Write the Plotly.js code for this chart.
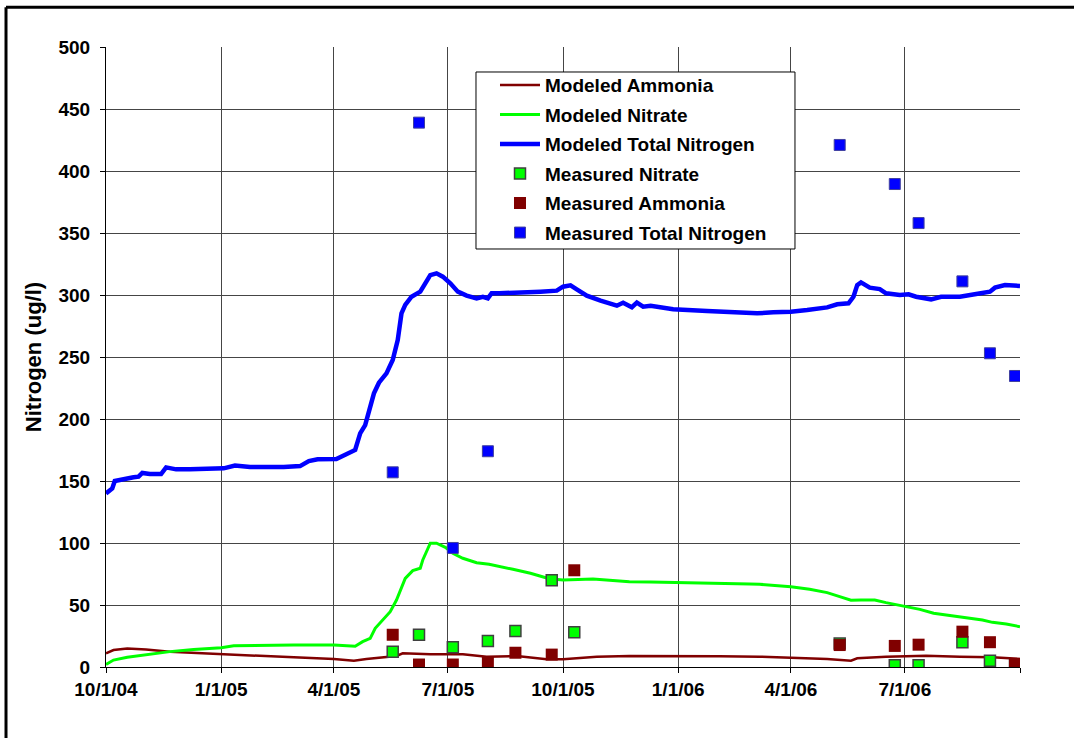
<!DOCTYPE html>
<html>
<head>
<meta charset="utf-8">
<script src="https://cdn.plot.ly/plotly-3.0.1.min.js"></script>
<style>
html,body{margin:0;padding:0;background:#fff;}
#chart{width:1074px;height:738px;}
</style>
</head>
<body>
<div id="chart"></div>
<script>
// ---- Modeled Total Nitrogen ----
const tnDates = ['2004-10-01','2004-10-06','2004-10-08','2004-10-12','2004-10-23','2004-10-27','2004-10-30','2004-11-05','2004-11-14','2004-11-18','2004-11-26','2004-12-07','2005-01-03','2005-01-12','2005-01-24','2005-02-20','2005-03-05','2005-03-12','2005-03-19','2005-04-03','2005-04-09','2005-04-18','2005-04-22','2005-04-26','2005-05-03','2005-05-07','2005-05-13','2005-05-18','2005-05-22','2005-05-25','2005-05-28','2005-06-02','2005-06-09','2005-06-13','2005-06-17','2005-06-22','2005-06-27','2005-07-03','2005-07-09','2005-07-16','2005-07-24','2005-07-29','2005-08-02','2005-08-05','2005-08-11','2005-09-13','2005-09-26','2005-10-01','2005-10-07','2005-10-12','2005-10-20','2005-10-31','2005-11-13','2005-11-18','2005-11-25','2005-11-29','2005-12-04','2005-12-10','2005-12-28','2006-01-24','2006-02-19','2006-03-05','2006-03-18','2006-04-01','2006-04-14','2006-04-30','2006-05-08','2006-05-17','2006-05-21','2006-05-24','2006-05-27','2006-06-03','2006-06-11','2006-06-16','2006-06-27','2006-07-04','2006-07-10','2006-07-22','2006-07-30','2006-08-14','2006-08-27','2006-09-07','2006-09-11','2006-09-19','2006-10-01'];
const tnValues = [140,144,150,151,153,153.5,156.5,155.6,155.6,161,159.4,159.4,160.2,162.4,161.3,161.3,162,166,167.5,167.7,171,175,188.4,195,220.7,229.3,236.8,247.6,263.7,285.2,292,298.6,302.7,309.4,316,317.5,314.8,309.4,302.7,299.5,297.3,298.6,297.3,301.4,301.4,302.7,303.5,306.7,307.8,304.6,299.5,295.4,291.4,293.8,290.1,293.8,290.6,291.4,288.5,287.1,285.7,285.2,286,286.5,287.9,290,292.5,293.3,298.6,308,310.2,305.9,304.8,301.4,300,300.5,298.6,296.5,298.6,298.6,300.8,302.7,305.9,308,307.3];

// ---- Modeled Nitrate ----
const no3Dates = ['2004-10-01','2004-10-07','2004-10-18','2004-11-02','2004-11-21','2004-12-10','2005-01-01','2005-01-11','2005-02-01','2005-02-28','2005-04-01','2005-04-18','2005-04-24','2005-04-30','2005-05-04','2005-05-16','2005-05-21','2005-05-28','2005-06-03','2005-06-09','2005-06-11','2005-06-17','2005-06-22','2005-06-29','2005-07-05','2005-07-13','2005-07-24','2005-08-03','2005-08-22','2005-09-05','2005-09-20','2005-10-01','2005-10-25','2005-11-23','2005-12-10','2006-01-18','2006-02-27','2006-03-07','2006-04-01','2006-04-16','2006-04-30','2006-05-10','2006-05-19','2006-05-27','2006-06-07','2006-06-16','2006-07-01','2006-07-13','2006-07-24','2006-08-09','2006-08-19','2006-09-01','2006-09-09','2006-09-20','2006-10-01'];
const no3Values = [2,5.6,7.8,9.7,12.4,14.2,15.6,17.2,17.5,17.7,17.7,16.8,20.4,23.1,31.2,44.6,54,71.5,77.7,79.6,86.3,99.8,99.8,96.5,91.7,87.7,84.1,82.8,78.8,75.6,71.2,70.2,71,68.8,68.5,68,67,66.7,64.8,62.7,60,56.7,53.8,54,54,51.9,48.6,46.5,43.3,41.1,39.2,37.9,36,34.7,32.5];

// ---- Modeled Ammonia ----
const nh3Dates = ['2004-10-01','2004-10-07','2004-10-18','2004-11-02','2004-11-21','2005-01-01','2005-02-01','2005-02-28','2005-04-01','2005-04-17','2005-04-27','2005-05-08','2005-05-21','2005-05-26','2005-06-17','2005-07-13','2005-08-01','2005-08-25','2005-09-18','2005-10-01','2005-10-28','2005-11-23','2006-01-02','2006-02-03','2006-03-07','2006-04-01','2006-04-30','2006-05-19','2006-05-24','2006-06-16','2006-07-01','2006-07-18','2006-08-14','2006-09-09','2006-10-01'];
const nh3Values = [11,13.7,15,14.2,12.3,10.2,9.1,7.8,6.5,5.1,6.5,7.8,8.9,11,10.2,10.2,8.3,8.9,6.2,6.2,8.3,8.9,9,8.7,8.3,7.5,6.5,5.1,7,8.3,8.9,9.1,8.3,7.8,6.5];

// ---- Measured samples ----
const measNo3Dates = ['2005-05-18','2005-06-08','2005-07-05','2005-08-02','2005-08-24','2005-09-22','2005-10-10','2006-05-10','2006-06-23','2006-07-12','2006-08-16','2006-09-07','2006-09-27'];
const measNo3Values = [12.3,26,16,21,29,70,28,19,1.5,1.5,20,5,2];
const measNh3Dates = ['2005-05-18','2005-06-08','2005-07-05','2005-08-02','2005-08-24','2005-09-22','2005-10-10','2006-05-10','2006-06-23','2006-07-12','2006-08-16','2006-09-07','2006-09-27'];
const measNh3Values = [26,2,2,3.5,11.5,10,78,17.7,17,18,28.5,20,2.5];
const measTnDates = ['2005-05-18','2005-06-08','2005-07-05','2005-08-02','2006-05-10','2006-06-23','2006-07-12','2006-08-16','2006-09-07','2006-09-27'];
const measTnValues = [157,439,96,174,421,389.5,358,311,253,234.7];

// ---- Axis ticks ----
const xTickVals = ['2004-10-01','2005-01-01','2005-04-01','2005-07-01','2005-10-01','2006-01-01','2006-04-01','2006-07-01','2006-10-01'];
const xTickText = ['10/1/04','1/1/05','4/1/05','7/1/05','10/1/05','1/1/06','4/1/06','7/1/06',''];

const FONT = 'Liberation Sans, Arial, sans-serif';

const traces = [
  {name:'Modeled Ammonia', x:nh3Dates, y:nh3Values, type:'scatter', mode:'lines',
   line:{color:'#800000', width:2.5}, legendgroup:'a'},
  {name:'Modeled Nitrate', x:no3Dates, y:no3Values, type:'scatter', mode:'lines',
   line:{color:'#00FF00', width:3}, legendgroup:'b'},
  {name:'Modeled Total Nitrogen', x:tnDates, y:tnValues, type:'scatter', mode:'lines',
   line:{color:'#0000FF', width:4.5}, legendgroup:'c'},
  {name:'Measured Nitrate', x:measNo3Dates, y:measNo3Values, type:'scatter', mode:'markers',
   marker:{symbol:'square', size:11, color:'#00FF00', line:{color:'#404040', width:1.5}}, legendgroup:'d'},
  {name:'Measured Ammonia', x:measNh3Dates, y:measNh3Values, type:'scatter', mode:'markers',
   marker:{symbol:'square', size:12, color:'#800000', line:{width:0}}, legendgroup:'e'},
  {name:'Measured Total Nitrogen', x:measTnDates, y:measTnValues, type:'scatter', mode:'markers',
   marker:{symbol:'square', size:11, color:'#0000FF', line:{color:'#4040a0', width:1}}, legendgroup:'f'}
];

const layout = {
  width:1074, height:738,
  margin:{l:106, r:54, t:47, b:71},
  paper_bgcolor:'#ffffff', plot_bgcolor:'#ffffff',
  font:{family:FONT, size:19, color:'#000', weight:'bold'},
  showlegend:true,
  legend:{x:0.4256, y:0.969, xanchor:'left', yanchor:'top',
    bgcolor:'rgba(0,0,0,0)', borderwidth:0,
    font:{family:FONT, size:19, color:'#000', weight:'bold'},
    itemwidth:40,
    tracegroupgap:1.8, traceorder:'grouped'},
  xaxis:{type:'date', range:['2004-10-01','2006-10-01'],
    tickmode:'array', tickvals:xTickVals, ticktext:xTickText,
    showgrid:true, gridcolor:'#454545', gridwidth:1,
    showline:true, linecolor:'#000', linewidth:1,
    ticks:'outside', ticklen:5, tickcolor:'#000',
    tickfont:{family:FONT, size:19, color:'#000', weight:'bold'},
    zeroline:false, fixedrange:true},
  yaxis:{range:[0,500], tickmode:'linear', tick0:0, dtick:50,
    showgrid:true, gridcolor:'#454545', gridwidth:1,
    showline:true, linecolor:'#000', linewidth:1,
    ticks:'outside', ticklen:5, tickcolor:'#000',
    tickfont:{family:FONT, size:19, color:'#000', weight:'bold'},
    ticklabelstandoff:6,
    zeroline:false, fixedrange:true,
    title:{text:'Nitrogen (ug/l)', standoff:10, font:{family:FONT, size:22, color:'#000', weight:'bold'}}},
  shapes:[
    {type:'rect', xref:'paper', yref:'paper', x0:0.4048, x1:0.7538, y0:0.6742, y1:0.9597,
     fillcolor:'#ffffff', line:{color:'#000', width:1}, layer:'above'},
    {type:'line', xref:'paper', yref:'paper', x0:-0.1094, x1:1.2, y0:1.064, y1:1.064, line:{color:'#000', width:3}},
    {type:'line', xref:'paper', yref:'paper', x0:-0.1094, x1:-0.1094, y0:-0.3, y1:1.064, line:{color:'#000', width:3}}
  ]
};

Plotly.newPlot('chart', traces, layout, {displayModeBar:false, staticPlot:true});
</script>
</body>
</html>
